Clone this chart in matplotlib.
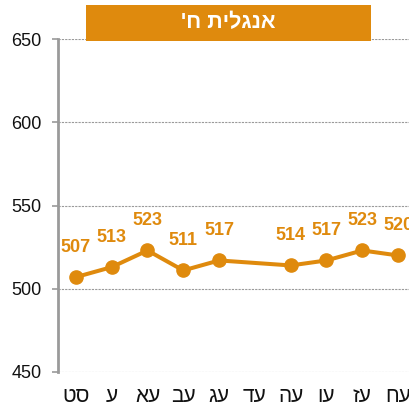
import numpy as np
import matplotlib
matplotlib.use("Agg")
import matplotlib.pyplot as plt
from matplotlib.patches import Rectangle

plt.rcParams['font.family'] = ['Liberation Sans', 'DejaVu Sans']

title = "אנגלית ח'"
categories = ["סט", "ע", "עא", "עב", "עג", "עד", "עה", "עו", "עז", "עח"]
values = [507, 513, 523, 511, 517, np.nan, 514, 517, 523, 520]
yticks = [450, 500, 550, 600, 650]

ORANGE = '#DF8A0D'
GRAY = '#9A9A9A'


def vis(s):
    # match the reference's visual glyph order
    return s[::-1]


fig = plt.figure(figsize=(4.10, 4.08), dpi=100)
ax = fig.add_axes([58/410, 36/408, (416-58)/410, (372-39)/408])

x = np.arange(len(categories))
vals = np.array(values, dtype=float)
mask = ~np.isnan(vals)
ax.plot(x[mask], vals[mask], color=ORANGE, lw=2.9, marker='o', ms=9.5,
        clip_on=False, zorder=3)
for xi, v in zip(x[mask], vals[mask]):
    ax.annotate(f"{int(v)}", (xi, v), xytext=(0, 21.5), textcoords='offset points',
                ha='center', va='center', color=ORANGE, fontsize=13,
                fontweight='bold', annotation_clip=False)

ax.set_xlim(-0.5, len(categories) - 0.5)
ax.set_ylim(450, 650)
ax.set_yticks(yticks)
ax.set_xticks(x)
ax.set_xticklabels([vis(c) for c in categories], fontsize=15)
ax.tick_params(axis='x', length=0, pad=11)
ax.tick_params(axis='y', length=4, width=1.2, color=GRAY, pad=8, labelsize=13)
for t in ax.get_yticklabels():
    t.set_color('#111111')
for t in ax.get_xticklabels():
    t.set_color('#111111')

for s in ['top', 'right', 'bottom']:
    ax.spines[s].set_visible(False)
ax.spines['left'].set_color(GRAY)
ax.spines['left'].set_linewidth(2)

ax.grid(axis='y', color=GRAY, linestyle=(0, (2, 1)), linewidth=0.8)
ax.set_axisbelow(True)

rect = Rectangle((86/410, (408-41)/408), 285/410, 36/408, transform=fig.transFigure,
                 facecolor=ORANGE, edgecolor='none', zorder=5)
fig.add_artist(rect)
fig.text(228.5/410, 1 - 23/408, vis(title), ha='center', va='center', color='white',
         fontsize=15.5, fontweight='bold', zorder=6)

fig.savefig('out.png', dpi=100)
